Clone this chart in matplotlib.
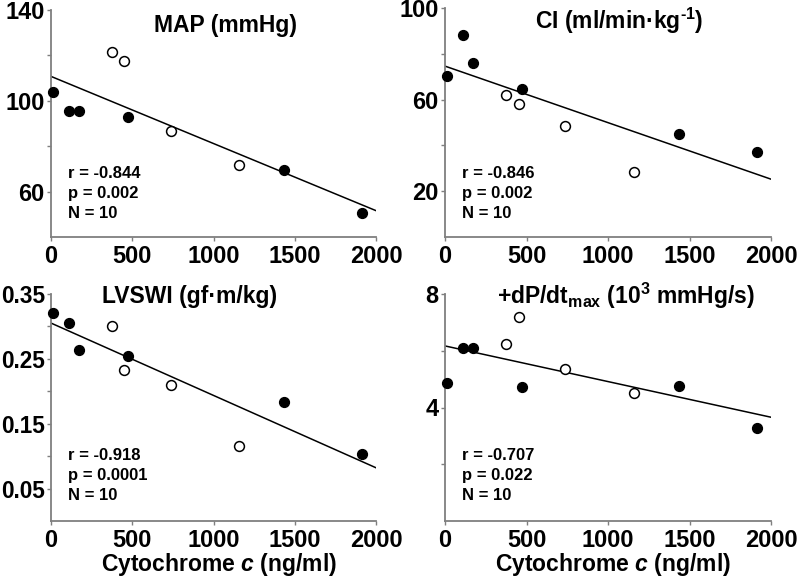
import numpy as np
import matplotlib
matplotlib.use('Agg')
import matplotlib.pyplot as plt

plt.rcParams['font.family'] = 'Liberation Sans'
plt.rcParams['font.weight'] = 'bold'
plt.rcParams['mathtext.fontset'] = 'custom'
plt.rcParams['mathtext.default'] = 'rm'
plt.rcParams['mathtext.rm'] = 'Liberation Sans:bold'
plt.rcParams['mathtext.bf'] = 'Liberation Sans:bold'
plt.rcParams['mathtext.it'] = 'Liberation Sans:italic:bold'

# cytochrome c (ng/ml) for the 10 animals
cyto = [10, 113, 172, 377, 451, 472, 738, 1157, 1436, 1912]
filled = [True, True, True, False, False, True, False, False, True, True]

map_vals = [103.7, 95.6, 95.6, 121.7, 117.6, 92.7, 86.5, 71.6, 69.7, 50.6]
ci_vals = [70.1, 88.0, 75.9, 62.0, 58.0, 64.8, 48.3, 28.4, 44.9, 37.0]
lvswi_vals = [0.320, 0.305, 0.263, 0.301, 0.233, 0.255, 0.210, 0.116, 0.183, 0.103]
dpdt_vals = [4.87, 6.11, 6.11, 6.23, 7.18, 4.71, 5.36, 4.50, 4.75, 3.29]

titles = ["MAP (mmHg)", "CI (ml/min\u00b7kg$^{\\text{-1}}$)",
          "LVSWI (gf\u00b7m/kg)", "+dP/dt$_{max}$ (10$^{3}$ mmHg/s)"]
stats = [("-0.844", "0.002"), ("-0.846", "0.002"),
         ("-0.918", "0.0001"), ("-0.707", "0.022")]
n_obs = 10

ylims = [(40, 140), (0, 100), (0, 0.35), (0, 8)]
ymajor = [[140, 100, 60], [100, 60, 20], [0.35, 0.25, 0.15, 0.05], [8, 4]]
yminor = [[120, 80], [80, 40], [0.30, 0.20, 0.10], [6, 2]]
ylabels = [["140", "100", "60"], ["100", "60", "20"],
           ["0.35", "0.25", "0.15", "0.05"], ["8", "4"]]

W, H = 800, 577
fig = plt.figure(figsize=(8, 5.77), dpi=100)

# axes rectangles in pixels: left, top, right, bottom
boxes = [(51, 10, 376, 237), (445, 8, 771, 237),
         (51, 294, 376, 521), (445, 294, 771, 521)]
title_pos = [(225, 32), (619, 29), (190, 303), (626, 304)]
stat_pos = [(68, 173), (462, 173), (68, 455), (462, 455)]
ylab_size = [17, 17, 16.3, 17]

data = [map_vals, ci_vals, lvswi_vals, dpdt_vals]
cyto = np.array(cyto)
filled = np.array(filled)
gray = '#7f7f7f'

for i in range(4):
    l, t, r, b = boxes[i]
    ax = fig.add_axes([l / W, 1 - b / H, (r - l) / W, (b - t) / H])
    y = np.array(data[i])

    ax.set_xlim(0, 2000)
    ax.set_ylim(*ylims[i])

    # least-squares regression line
    slope, icpt = np.polyfit(cyto, y, 1)
    xs = np.array([0, 2000])
    ax.plot(xs, icpt + slope * xs, color='black', lw=1.1, zorder=2)

    ax.scatter(cyto[filled], y[filled], s=50, c='black', zorder=3, clip_on=False)
    ax.scatter(cyto[~filled], y[~filled], s=50, facecolors='white',
               edgecolors='black', linewidths=1.1, zorder=3, clip_on=False)

    for s in ['top', 'right']:
        ax.spines[s].set_visible(False)
    for s in ['left', 'bottom']:
        ax.spines[s].set_color(gray)
        ax.spines[s].set_linewidth(1.3)

    ax.set_xticks([0, 500, 1000, 1500, 2000])
    ax.set_xticklabels(["0", "500", "1000", "1500", "2000"])
    ax.set_yticks(ymajor[i])
    ax.set_yticklabels(ylabels[i])
    ax.set_yticks(yminor[i], minor=True)
    ax.tick_params(which='both', direction='out', length=3, width=1,
                   color=gray, labelsize=17, pad=1.5)
    ax.tick_params(axis='x', pad=2.5)
    ax.tick_params(axis='y', labelsize=ylab_size[i])

    tx, ty = title_pos[i]
    fig.text(tx / W, 1 - ty / H, titles[i], ha='center', va='baseline',
             fontsize=16.5, fontweight='bold')

    sx, sy = stat_pos[i]
    lines = ["r = " + stats[i][0], "p = " + stats[i][1], "N = %d" % n_obs]
    for k, line in enumerate(lines):
        fig.text(sx / W, 1 - (sy + 20.5 * k) / H, line, ha='left',
                 va='center', fontsize=12, fontweight='bold')

for cx in [219, 613]:
    fig.text(cx / W, 1 - 565 / H, "Cytochrome $\\it{c}$ (ng/ml)",
             ha='center', va='center', fontsize=16.5, fontweight='bold')

plt.savefig('out.png', dpi=100)
